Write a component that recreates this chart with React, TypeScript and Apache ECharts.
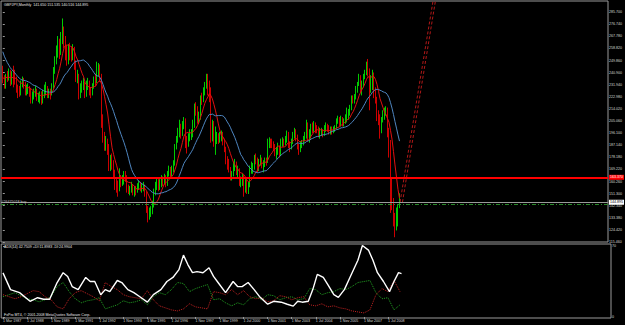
import React, { useEffect, useRef } from 'react';
import * as echarts from 'echarts';

// ---- data (monthly GBPJPY bars, index 0 = 1 Mar 1987) ----
const firstOpen = 243;
// closes before the first visible bar, implied by the starting level of the averages
const priorCloses = [300, 290, 285, 280, 275, 268, 265, 262, 258, 255, 252, 250, 247, 236, 232, 236, 240, 236, 238, 243];
const closes = [
  236, 231, 238, 237, 241, 234, 240, 238, 236, 229,
  228, 226, 233, 235, 232, 227, 228, 229, 227, 220, 224, 226,
  227, 222, 223, 224, 221, 225, 228, 228, 225, 226, 225, 231,
  243, 251, 257, 264, 256, 268, 271, 266, 257, 251, 258, 257,
  253, 259, 248, 237, 239, 224, 230, 232, 233, 225, 233, 233,
  227, 226, 231, 236, 235, 242, 245, 238, 206, 194, 188, 189,
  186, 172, 174, 173, 167, 160, 158, 155, 163, 160, 162, 166,
  163, 155, 153, 154, 157, 152, 154, 153, 156, 158, 155, 156,
  157, 152, 140, 135, 137, 138, 143, 152, 157, 160, 156, 160,
  161, 160, 163, 158, 166, 169, 166, 169, 174, 186, 191, 197,
  198, 196, 203, 205, 191, 190, 193, 195, 196, 202, 215, 214,
  208, 208, 222, 221, 227, 231, 236, 230, 228, 196, 203, 189,
  192, 193, 192, 193, 196, 190, 185, 177, 174, 170, 164, 166,
  172, 173, 168, 169, 160, 160, 164, 156, 160, 154, 158, 170,
  170, 171, 178, 177, 169, 175, 177, 172, 174, 176, 175, 190,
  190, 189, 188, 187, 181, 183, 186, 181, 190, 190, 189, 191,
  196, 187, 186, 190, 195, 198, 193, 186, 184, 187, 189, 192,
  194, 202, 192, 195, 201, 199, 202, 200, 199, 195, 197, 197,
  195, 200, 202, 200, 197, 199, 197, 199, 200, 205, 206, 203,
  207, 203, 205, 208, 210, 211, 215, 222, 221, 223, 228, 233,
  237, 231, 232, 239, 241, 247, 242, 232, 235, 239, 228, 222,
  211, 208, 198, 206, 208, 212, 214, 198, 189, 160, 146, 132,
  129, 140, 141.65, 144.895,
];
const highs = [
  246, 239, 240, 242, 244, 243, 242, 246, 243, 238,
  232, 231, 235, 238, 237, 234, 232, 233, 231, 229, 227, 229,
  231, 229, 226, 227, 227, 228, 232, 234, 231, 229, 229, 233,
  245, 253, 261, 268, 266, 271, 281, 275, 268, 261, 262, 263,
  260, 262, 260, 250, 243, 240, 233, 235, 237, 234, 235, 237,
  235, 230, 233, 238, 240, 249, 248, 247, 240, 210, 197, 194,
  192, 188, 180, 181, 176, 169, 163, 161, 170, 165, 165, 168,
  168, 165, 158, 157, 160, 158, 157, 157, 159, 161, 160, 159,
  160, 158, 153, 142, 141, 142, 146, 155, 160, 163, 162, 162,
  165, 164, 166, 165, 168, 172, 171, 172, 176, 188, 194, 200,
  206, 203, 205, 208, 207, 194, 196, 199, 199, 206, 218, 219,
  216, 212, 224, 226, 230, 234, 240, 240, 235, 230, 206, 205,
  201, 197, 196, 197, 198, 197, 192, 186, 179, 177, 171, 168,
  175, 177, 175, 172, 170, 164, 166, 165, 162, 162, 160, 172,
  175, 174, 180, 181, 178, 177, 180, 178, 176, 178, 178, 192,
  193, 192, 192, 190, 188, 186, 189, 187, 192, 193, 192, 194,
  198, 197, 190, 192, 197, 200, 199, 195, 188, 190, 191, 194,
  197, 206, 204, 199, 203, 204, 205, 204, 202, 201, 200, 200,
  199, 202, 204, 203, 202, 201, 201, 201, 202, 207, 209, 208,
  209, 208, 207, 210, 215, 214, 217, 224, 224, 225, 231, 234,
  240, 239, 235, 240, 243, 249, 251, 244, 239, 243, 241, 230,
  223, 213, 210, 208, 213, 215, 216, 215, 200, 191, 163, 148,
  137, 141, 143, 151.535,
];
const lows = [
  233, 229, 229, 234, 235, 231, 232, 230, 232, 226,
  222, 223, 224, 230, 229, 224, 224, 225, 223, 218, 218, 221,
  223, 220, 219, 218, 217, 218, 222, 224, 222, 222, 221, 224,
  229, 240, 247, 252, 251, 254, 262, 259, 250, 246, 247, 250,
  249, 250, 243, 234, 233, 221, 222, 226, 228, 222, 223, 228,
  224, 222, 224, 229, 231, 233, 238, 234, 200, 189, 183, 183,
  180, 168, 168, 169, 163, 154, 152, 149, 153, 156, 157, 158,
  160, 152, 151, 150, 152, 150, 149, 150, 152, 154, 153, 152,
  153, 149, 137, 130, 132, 134, 136, 141, 150, 154, 153, 154,
  156, 157, 158, 156, 157, 164, 163, 164, 167, 172, 184, 189,
  193, 192, 194, 199, 185, 181, 186, 190, 191, 193, 200, 209,
  203, 203, 206, 217, 219, 224, 229, 224, 219, 189, 190, 186,
  180, 188, 188, 189, 190, 187, 182, 173, 169, 167, 161, 161,
  164, 168, 165, 163, 157, 156, 157, 149, 152, 151, 151, 156,
  166, 166, 169, 173, 167, 168, 172, 170, 167, 171, 172, 174,
  185, 185, 185, 183, 179, 177, 180, 178, 179, 186, 186, 187,
  189, 185, 182, 184, 188, 192, 190, 184, 180, 182, 185, 187,
  190, 192, 190, 189, 192, 196, 197, 196, 196, 193, 192, 194,
  193, 194, 197, 197, 195, 195, 195, 196, 197, 199, 203, 201,
  201, 201, 201, 203, 204, 206, 209, 213, 218, 218, 221, 226,
  231, 226, 224, 230, 236, 239, 238, 213, 226, 228, 222, 218,
  205, 202, 192, 196, 204, 206, 209, 193, 178, 137, 139, 127,
  119, 124, 127, 140.516,
];

// ADX(14)
const adxMonths = [0, 5, 11, 18, 23, 27, 31, 36, 40, 43, 46, 50, 55, 58, 61, 65, 68, 71, 76, 79, 83, 87, 91, 96, 100, 105, 109, 113, 117, 120, 123, 126, 129, 133, 137, 140, 143, 148, 153, 156, 159, 163, 167, 171, 176, 180, 185, 189, 193, 196, 199, 203, 206, 209, 213, 216, 220, 223, 227, 231, 236, 239, 243, 246, 249, 253, 257, 260, 263, 265];
const adxValues = [43.5, 27, 24, 15.5, 19, 17.5, 17.5, 34, 43.7, 40, 30, 27, 39, 35, 35, 22, 27, 25, 36, 34, 27, 24, 20, 14.6, 22, 27, 35, 39, 46.7, 61, 51.5, 43.7, 44.7, 43.7, 48.6, 40, 34, 24, 35, 30, 30, 34, 27, 19.4, 12.6, 15.5, 14.6, 12.6, 10.7, 15.5, 14.6, 15.5, 27, 42, 39, 32, 22, 19.4, 27, 40, 56, 70.5, 66, 56, 43.7, 35, 25, 35, 43.7, 42.75];
const diMonths = [0, 4, 8, 12, 16, 20, 24, 28, 32, 36, 40, 44, 48, 52, 56, 60, 64, 68, 72, 76, 80, 84, 88, 92, 96, 100, 104, 108, 112, 116, 120, 124, 128, 132, 136, 140, 144, 148, 152, 156, 160, 164, 168, 172, 176, 180, 184, 188, 192, 196, 200, 204, 208, 212, 216, 220, 224, 228, 232, 236, 240, 244, 248, 252, 256, 260, 264];
const plusDI = [20, 22, 24, 21, 18, 17, 15, 17, 20, 30, 34, 25, 18, 14, 16, 17, 19, 8, 10, 12, 16, 14, 15, 17, 12, 20, 24, 22, 27, 34, 33, 25, 28, 30, 32, 17, 18, 14, 11, 14, 12, 18, 20, 17, 22, 21, 17, 19, 20, 17, 18, 28, 27, 22, 24, 25, 28, 27, 30, 34, 35, 36, 24, 18, 19, 7, 12];
const minusDI = [22, 20, 18, 20, 23, 26, 25, 20, 17, 10, 8, 18, 24, 26, 23, 20, 16, 34, 30, 27, 22, 20, 19, 18, 26, 17, 11, 9, 7, 6, 8, 13, 10, 9, 8, 25, 24, 22, 27, 22, 26, 20, 18, 19, 15, 16, 21, 20, 17, 19, 20, 12, 11, 13, 10, 11, 9, 8, 6, 5, 4, 7, 22, 28, 25, 36, 25];

// levels and drawn objects
const redLevel = 163.37;
const bidPrice = 144.895;
const orderPrice = 143.6;
const trendA = [[265.4, 145], [288.3, 300]];
const trendB = [[267.0, 145], [289.9, 300]];

// tick labels
const priceTicks = [115.46, 124.42, 133.38, 142.34, 151.3, 160.26, 169.22, 178.18, 187.14, 196.1, 205.06, 214.02, 222.98, 231.94, 240.9, 249.86, 258.82, 267.78, 276.74, 285.7];
const xTickMonths = [0, 16, 32, 48, 64, 80, 96, 112, 128, 144, 160, 176, 192, 208, 224, 240, 256];
const xTickLabels = ['1 Mar 1987', '1 Jul 1988', '1 Nov 1989', '1 Mar 1991', '1 Jul 1992', '1 Nov 1993', '1 Mar 1995', '1 Jul 1996', '1 Nov 1997', '1 Mar 1999', '1 Jul 2000', '1 Nov 2001', '1 Mar 2003', '1 Jul 2004', '1 Nov 2005', '1 Mar 2007', '1 Jul 2008'];
const adxTicks = [0, 70];

const titleText = 'GBPJPY,Monthly  141.650 151.535 140.516 144.895';
const adxTitle = 'ADX(14) 42.7509 +DI:11.8983 -DI:24.9904';
const copyright = 'FxPro MT4, \u00A9 2001-2008 MetaQuotes Software Corp.';
const orderText = '#26475018 buy';

const FONT = 'Liberation Sans, Arial, sans-serif';
const FS = 3.6;

function sma(period: number) {
  const all = priorCloses.concat(closes);
  const off = priorCloses.length;
  const out: number[][] = [];
  for (let i = 0; i < closes.length; i++) {
    let s = 0;
    for (let k = 0; k < period; k++) s += all[off + i - k];
    out.push([i, s / period]);
  }
  return out;
}

export default function App() {
  const ref = useRef<HTMLDivElement>(null);
  useEffect(() => {
    document.body.style.margin = '0';
    document.body.style.background = '#000';
    const chart = echarts.init(ref.current as HTMLDivElement, null, { renderer: 'svg' });
    const candles = closes.map((c, i) => [i, i === 0 ? firstOpen : closes[i - 1], c, lows[i], highs[i]]);
    const xMin = -1.2, xMax = 404.3;
    const option: any = {
      animation: false,
      backgroundColor: '#000',
      textStyle: { fontFamily: FONT },
      grid: [
        { left: 1, top: 1, width: 610, height: 241, show: true, borderColor: '#9a9a9a', borderWidth: 1, backgroundColor: '#000' },
        { left: 1, top: 244, width: 610, height: 74, show: true, borderColor: '#9a9a9a', borderWidth: 1, backgroundColor: '#000' },
      ],
      xAxis: [
        { type: 'value', gridIndex: 0, min: xMin, max: xMax, show: false },
        {
          type: 'value', gridIndex: 1, min: xMin, max: xMax,
          axisLine: { show: false }, splitLine: { show: false },
          axisTick: { show: true, customValues: xTickMonths, length: 2, lineStyle: { color: '#9a9a9a' } },
          axisLabel: {
            customValues: xTickMonths, color: '#d8d8d8', fontSize: FS, fontFamily: FONT, align: 'left', margin: 1,
            formatter: (v: number) => { const k = xTickMonths.indexOf(Math.round(v)); return k >= 0 ? xTickLabels[k] : ''; },
          },
        },
      ],
      yAxis: [
        {
          type: 'value', gridIndex: 0, position: 'right', min: 115.46, max: 293.93, scale: true,
          axisLine: { show: false }, splitLine: { show: false },
          axisTick: { show: true, customValues: priceTicks, length: 2, lineStyle: { color: '#9a9a9a' } },
          axisLabel: { customValues: priceTicks, color: '#d8d8d8', fontSize: FS, fontFamily: FONT, margin: 1, formatter: (v: number) => v.toFixed(3) },
        },
        {
          type: 'value', gridIndex: 1, position: 'right', min: -1, max: 72,
          axisLine: { show: false }, splitLine: { show: false },
          axisTick: { show: true, customValues: adxTicks, length: 2, lineStyle: { color: '#9a9a9a' } },
          axisLabel: { customValues: adxTicks, color: '#d8d8d8', fontSize: FS, fontFamily: FONT, margin: 1 },
        },
      ],
      series: [
        {
          type: 'candlestick', xAxisIndex: 0, yAxisIndex: 0, data: candles, barWidth: 1,
          itemStyle: { color: '#00ff00', color0: '#ff0000', borderColor: '#00ff00', borderColor0: '#ff0000', borderWidth: 0.8 },
          silent: true,
        },
        { type: 'line', xAxisIndex: 0, yAxisIndex: 0, data: sma(8), symbol: 'none', lineStyle: { color: '#e01010', width: 1 }, silent: true },
        { type: 'line', xAxisIndex: 0, yAxisIndex: 0, data: sma(21), symbol: 'none', lineStyle: { color: '#4f86c0', width: 1 }, silent: true },
        {
          type: 'line', xAxisIndex: 0, yAxisIndex: 0, data: [], silent: true,
          markLine: {
            silent: true, symbol: ['none', 'none'], animation: false,
            data: [
              {
                yAxis: bidPrice, lineStyle: { color: '#9a9a9a', width: 1, type: 'solid' },
                label: { show: true, position: 'end', distance: 1, formatter: bidPrice.toFixed(3), color: '#000', backgroundColor: '#ffffff', fontSize: FS, fontFamily: FONT, padding: [0.5, 1] },
              },
              {
                yAxis: orderPrice, lineStyle: { color: '#2a8a2a', width: 1, type: [4, 2, 1, 2] },
                label: { show: true, position: 'insideStartTop', distance: 0.5, formatter: orderText, color: '#c8c8c8', fontSize: FS, fontFamily: FONT },
              },
              {
                yAxis: redLevel, lineStyle: { color: '#ff0000', width: 2, type: 'solid' },
                label: { show: true, position: 'end', distance: 1, formatter: redLevel.toFixed(3), color: '#ffffff', backgroundColor: '#ff0000', fontSize: FS, fontFamily: FONT, padding: [0.5, 1] },
              },
            ],
          },
        },
        { type: 'line', xAxisIndex: 0, yAxisIndex: 0, data: trendA, symbol: 'none', lineStyle: { color: '#b01818', width: 1, type: [3, 2] }, silent: true },
        { type: 'line', xAxisIndex: 0, yAxisIndex: 0, data: trendB, symbol: 'none', lineStyle: { color: '#b01818', width: 1, type: [3, 2] }, silent: true },
        { type: 'line', xAxisIndex: 1, yAxisIndex: 1, data: diMonths.map((m, k) => [m, plusDI[k]]), symbol: 'none', lineStyle: { color: '#22a022', width: 1, type: 'dotted' }, silent: true },
        { type: 'line', xAxisIndex: 1, yAxisIndex: 1, data: diMonths.map((m, k) => [m, minusDI[k]]), symbol: 'none', lineStyle: { color: '#c02222', width: 1, type: 'dotted' }, silent: true },
        { type: 'line', xAxisIndex: 1, yAxisIndex: 1, data: adxMonths.map((m, k) => [m, adxValues[k]]), symbol: 'none', lineStyle: { color: '#ffffff', width: 1.4 }, silent: true },
      ],
      graphic: [
        { type: 'text', x: 4, y: 2.5, style: { text: titleText, fill: '#e8e8e8', fontSize: FS, fontFamily: FONT } },
        { type: 'text', x: 4, y: 245, style: { text: adxTitle, fill: '#e8e8e8', fontSize: FS, fontFamily: FONT } },
        { type: 'text', x: 4, y: 313, style: { text: copyright, fill: '#e8e8e8', fontSize: FS, fontFamily: FONT } },
      ],
    };
    chart.setOption(option);
    return () => chart.dispose();
  }, []);
  return <div ref={ref} style={{ position: 'absolute', left: 0, top: 0, width: 625, height: 325, background: '#000' }} />;
}
